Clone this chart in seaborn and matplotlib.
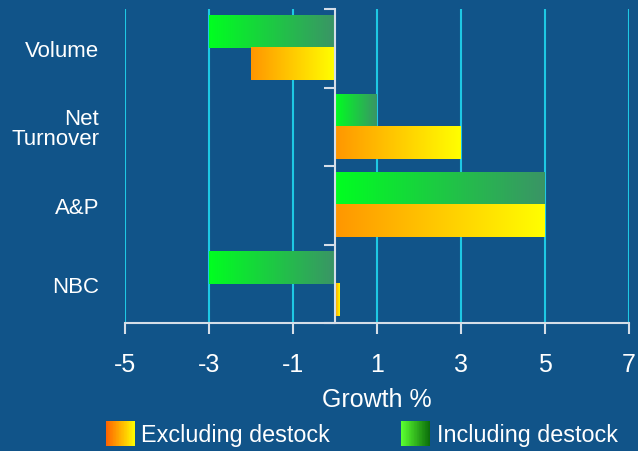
import numpy as np
import pandas as pd
import matplotlib
matplotlib.use("Agg")
import matplotlib.pyplot as plt
import seaborn as sns
from matplotlib.colors import LinearSegmentedColormap, to_rgb
from matplotlib.legend_handler import HandlerBase
from matplotlib.patches import Rectangle, Patch

# ---- data ----
categories = ['Volume', 'Net\nTurnover', 'A&P', 'NBC']
including = [-3, 1, 5, -3]
excluding = [-2, 3, 5, 0.1]
series_names = ['Including destock', 'Excluding destock']
legend_order = ['Excluding destock', 'Including destock']
x_ticks = [-5, -3, -1, 1, 3, 5, 7]

# ---- styling ----
BG = '#115489'
GRID = '#1EC8E4'
AXC = '#D5DEE8'
bar_grads = {
    'Including destock': ('#00FF20', '#3A9466'),
    'Excluding destock': ('#FF9600', '#FFFF00'),
}
legend_grads = {
    'Including destock': ('#5AFF30', '#0A6A0A'),
    'Excluding destock': ('#FF6400', '#FFFF00'),
}

sns.set_style('white')
plt.rcParams['font.family'] = ['Liberation Sans', 'DejaVu Sans']
plt.rcParams['axes.unicode_minus'] = False

df = pd.DataFrame({
    'category': categories * 2,
    'series': [series_names[0]] * len(categories) + [series_names[1]] * len(categories),
    'value': including + excluding,
})

fig = plt.figure(figsize=(6.38, 4.52), dpi=100, facecolor=BG)
ax = fig.add_axes([125 / 638, 1 - 324 / 452, 504 / 638, 314 / 452])
ax.set_facecolor(BG)

sns.barplot(data=df, y='category', x='value', hue='series', order=categories,
            hue_order=series_names, orient='h', width=0.82, legend=False,
            ax=ax, saturation=1)

xlim = (-5, 7)
ylim = (len(categories) - 0.5, -0.5)

# gradient fills
for name, cont in zip(series_names, ax.containers):
    cmap = LinearSegmentedColormap.from_list(name, bar_grads[name])
    grad = np.linspace(0, 1, 256).reshape(1, -1)
    for p in cont.patches:
        x0, x1 = sorted([p.get_x(), p.get_x() + p.get_width()])
        y0, y1 = sorted([p.get_y(), p.get_y() + p.get_height()])
        ax.imshow(grad, extent=[x0, x1, y1, y0], aspect='auto', cmap=cmap,
                  interpolation='bicubic', zorder=2)
        p.set_visible(False)

ax.set_xlim(*xlim)
ax.set_ylim(*ylim)
ax.set_aspect('auto')

# grid and axes
ax.set_xticks(x_ticks)
ax.xaxis.grid(True, color=GRID, linewidth=1.5)
ax.yaxis.grid(False)
ax.set_axisbelow(True)
for s in ['top', 'right', 'left']:
    ax.spines[s].set_visible(False)
ax.spines['bottom'].set_color(AXC)
ax.spines['bottom'].set_linewidth(1.5)
ax.tick_params(axis='x', direction='out', length=8, width=1.5, color=AXC,
               labelcolor='white', labelsize=18, pad=13, bottom=True)
ax.tick_params(axis='y', length=0, labelcolor='white', labelsize=16, pad=18.5)
for lbl in ax.get_yticklabels():
    lbl.set_linespacing(0.95)
ax.set_ylabel('')
ax.set_xlabel('Growth %', color='white', fontsize=18, labelpad=8)

# zero axis with category separator ticks
zero_loc = (0 - xlim[0]) / (xlim[1] - xlim[0])
sec = ax.secondary_yaxis(zero_loc)
bounds = np.arange(-0.5, len(categories) + 0.5, 1.0)
sec.set_yticks(bounds)
sec.set_yticklabels([''] * len(bounds))
sec.tick_params(axis='y', direction='out', length=8, width=1.5, color=AXC)
for s in sec.spines.values():
    s.set_color(AXC)
    s.set_linewidth(1.5)
sec.set_zorder(5)


# legend with gradient handles
class GradHandler(HandlerBase):
    def __init__(self, c0, c1, n=40):
        super().__init__()
        self.c0, self.c1, self.n = np.array(to_rgb(c0)), np.array(to_rgb(c1)), n

    def create_artists(self, legend, orig_handle, xdescent, ydescent, width,
                       height, fontsize, trans):
        arts = []
        w = width / self.n
        for i in range(self.n):
            t = i / (self.n - 1)
            col = self.c0 * (1 - t) + self.c1 * t
            r = Rectangle((-xdescent + i * w, -ydescent), w * 1.05, height,
                          facecolor=col, edgecolor='none', transform=trans)
            arts.append(r)
        return arts


handles = [Patch(label=n) for n in legend_order]
hmap = {h: GradHandler(*legend_grads[h.get_label()]) for h in handles}
leg = fig.legend(handles=handles, labels=legend_order, loc='center',
                 bbox_to_anchor=(0.567, 0.038), ncol=2, frameon=False,
                 fontsize=16.8, handlelength=1.25, handleheight=1.25,
                 handletextpad=0.26, columnspacing=3.05, borderpad=0,
                 handler_map=hmap)
for t in leg.get_texts():
    t.set_color('white')

fig.savefig('out.png', dpi=100, facecolor=BG)
